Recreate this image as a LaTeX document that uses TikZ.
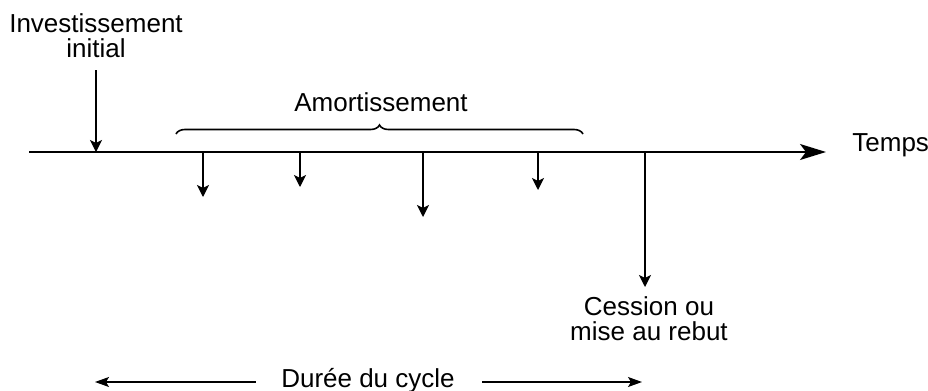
\documentclass[tikz,border=0pt]{standalone}
\usepackage{fontspec}
\setmainfont{Liberation Sans}
\usetikzlibrary{arrows.meta,decorations.pathreplacing,positioning}

\begin{document}
\begin{tikzpicture}[x=0.5pt,y=-0.5pt,
    every node/.style={inner sep=0pt,align=center,
      font=\fontsize{13}{12.5}\selectfont},
    flow/.style={semithick,-{Stealth[length=6pt,width=6pt,inset=1.5pt]}},
    axis/.style={thick,-{Stealth[length=13pt,width=8pt,inset=3pt]}},
    span/.style={semithick,-{Stealth[length=7pt,width=5pt,inset=1.5pt]}},
    bracket/.style={thick,decorate,decoration={brace,amplitude=4.5pt}}
    ]
    \useasboundingbox (0,0) rectangle (928,391);

    % the time axis
    \coordinate (t0) at (29,152);
    \coordinate (t1) at (826,152);
    \node (temps) [anchor=base west] at (852,151) {Temps};
    \draw[axis] (t0) -- (t1);

    % initial investment
    \node (inv) [anchor=north] at (96,13) {Investissement\\initial};
    \coordinate (i0) at (96,70);
    \coordinate (i1) at (96,152);
    \draw[flow] (i0) -- (i1);

    % depreciation
    \coordinate (b0) at (176,134);
    \coordinate (b1) at (583,134);
    \draw[bracket] (b0) -- (b1);
    \node (amort) [anchor=base] at (381,112) {Amortissement};
    \foreach \x/\y [count=\i] in {203/197,300/187,423/217,538/190}{
      \coordinate (a\i) at (\x,152);
      \coordinate (c\i) at (\x,\y);
      \draw[flow] (a\i) -- (c\i);
    }

    % disposal
    \coordinate (s0) at (645,152);
    \coordinate (s1) at (645,287);
    \node (cession) [anchor=north] at (649,296) {Cession ou\\mise au rebut};
    \draw[flow] (s0) -- (s1);

    % life span
    \node (duree) [anchor=base] at (368,387) {Durée du cycle};
    \coordinate (d0) at (95,382);
    \coordinate (d1) at (642,382);
    \draw[span] ([xshift=-12.5pt]duree.west |- d0) -- (d0);
    \draw[span] ([xshift=13.5pt]duree.east |- d1) -- (d1);
\end{tikzpicture}
\end{document}
